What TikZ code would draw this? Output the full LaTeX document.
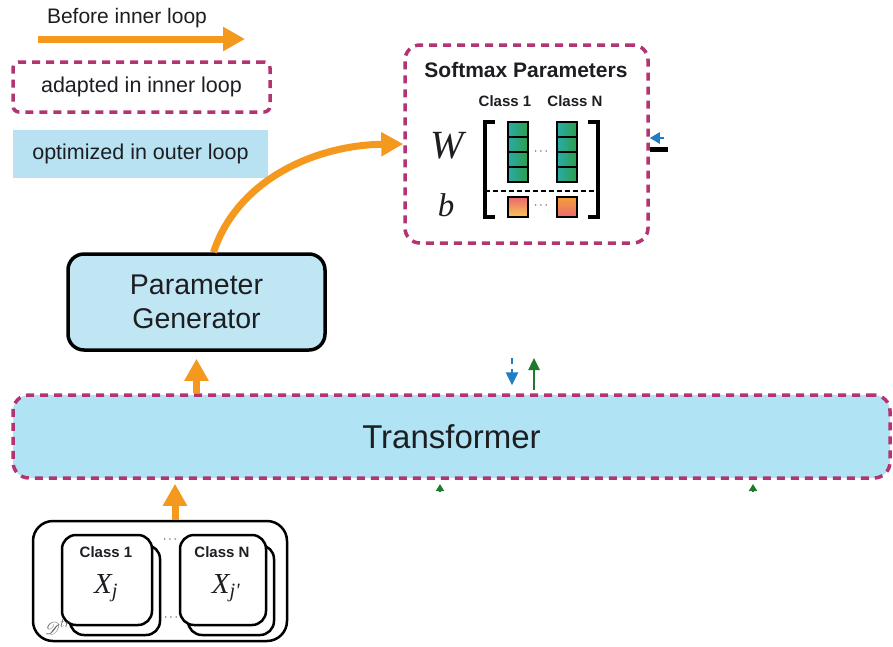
\documentclass[tikz,border=0pt]{standalone}
\usepackage{fix-cm}
\usepackage{amsmath}
\usepackage{mathrsfs}
\usepackage{fontspec}
\setmainfont{Liberation Sans}
\newfontfamily\symserif{Liberation Serif}
\usetikzlibrary{arrows.meta,positioning}
\definecolor{loopmagenta}{RGB}{178,52,112}
\definecolor{outerblue}{RGB}{184,226,242}
\definecolor{transblue}{RGB}{176,228,244}
\definecolor{genblue}{RGB}{192,230,244}
\definecolor{arroworange}{RGB}{244,152,30}
\definecolor{textgray}{RGB}{28,30,34}
\definecolor{cellteal}{RGB}{40,172,168}
\definecolor{cellgreen}{RGB}{44,158,72}
\definecolor{biaspink}{RGB}{236,104,112}
\definecolor{biasyellow}{RGB}{246,200,80}
\definecolor{biasorange}{RGB}{242,160,58}
\definecolor{updblue}{RGB}{30,125,196}
\definecolor{updgreen}{RGB}{30,122,42}

\begin{document}
\begin{tikzpicture}[x=1pt, y=-1pt, every node/.style={text=textgray},
  loopbox/.style={draw=loopmagenta, line width=3.5pt, dash pattern=on 8pt off 6pt},
  orangearrow/.style={draw=arroworange, line width=7pt, -{Triangle[length=22pt,width=23pt]}},
  cell/.style={draw=black, line width=1.5pt, minimum width=20pt, minimum height=15pt, inner sep=0pt, left color=cellteal, right color=cellgreen},
  setbox/.style={draw, fill=white, line width=2.5pt, rounded corners=14pt, minimum width=90pt, minimum height=90pt},
  classlbl/.style={font=\bfseries\fontsize{15}{18}\selectfont},
  symlbl/.style={font=\symserif\itshape\fontsize{#1}{#1}\selectfont},
  dotsep/.style={font=\fontsize{12}{14}\selectfont}]
  \useasboundingbox (0,0) rectangle (893,646);

  % legend
  \coordinate (legtail) at (38,39);
  \coordinate (leghead) at (245,39);
  \draw[orangearrow] (legtail) -- (leghead);
  \node[font=\fontsize{21}{24}\selectfont] (before) at (127,18) {Before inner loop};
  \node[loopbox, rounded corners=6pt, minimum width=257pt, minimum height=50pt, font=\fontsize{21.5}{24}\selectfont] (adapted) at (141.5,87) {adapted in inner loop};
  \node[fill=outerblue, minimum width=255pt, minimum height=48pt, font=\fontsize{21.5}{24}\selectfont] (optimized) at (140.5,154) {optimized in outer loop};

  % softmax parameters
  \node[loopbox, rounded corners=15pt, minimum width=243pt, minimum height=198pt] (soft) at (526.5,144) {};
  \node[font=\bfseries\fontsize{21}{24}\selectfont] (softtitle) at (526,70) {Softmax Parameters};
  \node[classlbl] (wclass1) at (505,101) {Class 1};
  \node[classlbl] (wclassN) at (575,101) {Class N};
  \node[symlbl=40] (wlabel) at (447,146) {W};
  \node[symlbl=33] (blabel) at (446,205) {b};
  \draw[line width=3.5pt] (495,122) -- (485,122) -- (485,217) -- (495,217);
  \draw[line width=3.5pt] (588,122) -- (598,122) -- (598,217) -- (588,217);
  \node[cell] (w11) at (518,129.5) {};
  \node[cell] (w12) at (518,144.5) {};
  \node[cell] (w13) at (518,159.5) {};
  \node[cell] (w14) at (518,174.5) {};
  \node[cell] (wN1) at (567,129.5) {};
  \node[cell] (wN2) at (567,144.5) {};
  \node[cell] (wN3) at (567,159.5) {};
  \node[cell] (wN4) at (567,174.5) {};
  \node[dotsep] (wdots) at (542,152) {$\cdots$};
  \draw[line width=2pt, dash pattern=on 5pt off 3pt] (485,191) -- (598,191);
  \node[cell, minimum width=20pt, minimum height=20pt, top color=biaspink, bottom color=biasyellow] (b1) at (518,207) {};
  \node[cell, minimum width=20pt, minimum height=20pt, top color=biasorange, bottom color=biaspink] (bN) at (567,207) {};
  \node[dotsep] (bdots) at (542,206) {$\cdots$};

  % partial connectors at the right
  \coordinate (feedtail) at (664,138);
  \draw[updblue, line width=2.5pt, -{Triangle[length=10pt,width=11pt]}] (feedtail) -- (soft.east |- feedtail);
  \coordinate (lossend) at (668,149);
  \draw[line width=5pt] (soft.east |- lossend) -- (lossend);

  % generator and transformer
  \node[draw, fill=genblue, line width=3.5pt, rounded corners=16pt, minimum width=257pt, minimum height=96pt, align=center, font=\fontsize{28.5}{34}\selectfont] (pgen) at (196.5,302) {Parameter\\Generator};
  \node[loopbox, fill=transblue, rounded corners=16pt, minimum width=877pt, minimum height=83pt, font=\fontsize{33}{36}\selectfont] (trans) at (451.5,436.5) {Transformer};
  \draw[orangearrow] ([xshift=17pt]pgen.north) .. controls (238,178) and (318,145) .. (soft.west);
  \draw[orangearrow, shorten >=7pt] (pgen.south |- trans.north) -- (pgen.south);

  \coordinate (gradtop) at (512,358);
  \draw[updblue, line width=2.5pt, dash pattern=on 6pt off 5pt, -{Triangle[length=13pt,width=12pt]}, shorten >=8pt] (gradtop) -- (trans.north -| gradtop);
  \coordinate (uptop) at (534,358);
  \draw[updgreen, line width=2.5pt, -{Triangle[length=12pt,width=11pt]}, shorten <=3pt] (trans.north -| uptop) -- (uptop);
  \coordinate (uptipA) at (440,484);
  \coordinate (uptipB) at (753,484);
  \draw[updgreen, line width=2pt, -{Triangle[length=7pt,width=8pt]}] (uptipA |- 0,491) -- (uptipA);
  \draw[updgreen, line width=2pt, -{Triangle[length=7pt,width=8pt]}] (uptipB |- 0,491) -- (uptipB);

  % training set
  \node[draw, line width=2.5pt, rounded corners=20pt, minimum width=254pt, minimum height=120pt] (dtr) at (160,581) {};
  \node[setbox] (set1back) at (115,590) {};
  \node[setbox] (set1) at (107,580) {};
  \node[setbox, minimum width=86pt] (setNback) at (231,590) {};
  \node[setbox, minimum width=86pt] (setN) at (223,580) {};
  \node[classlbl] (sclass1) at (106,552) {Class 1};
  \node[classlbl] (sclassN) at (222,552) {Class N};
  \node[symlbl=29] (xj) at (106,588) {X\textsubscript{j}};
  \node[symlbl=29] (xjp) at (226,588) {X\textsubscript{j'}};
  \node[dotsep] (sdots1) at (171,540) {$\cdots$};
  \node[dotsep] (sdots2) at (172,618) {$\cdots$};
  \node[font=\fontsize{18}{20}\selectfont, text=black!65] (dtrlabel) at (58,627) {$\mathscr{D}^{tr}$};
  \draw[orangearrow, shorten >=4pt] ([xshift=15pt]dtr.north) -- ([xshift=15pt]dtr.north |- trans.south);
\end{tikzpicture}
\end{document}
